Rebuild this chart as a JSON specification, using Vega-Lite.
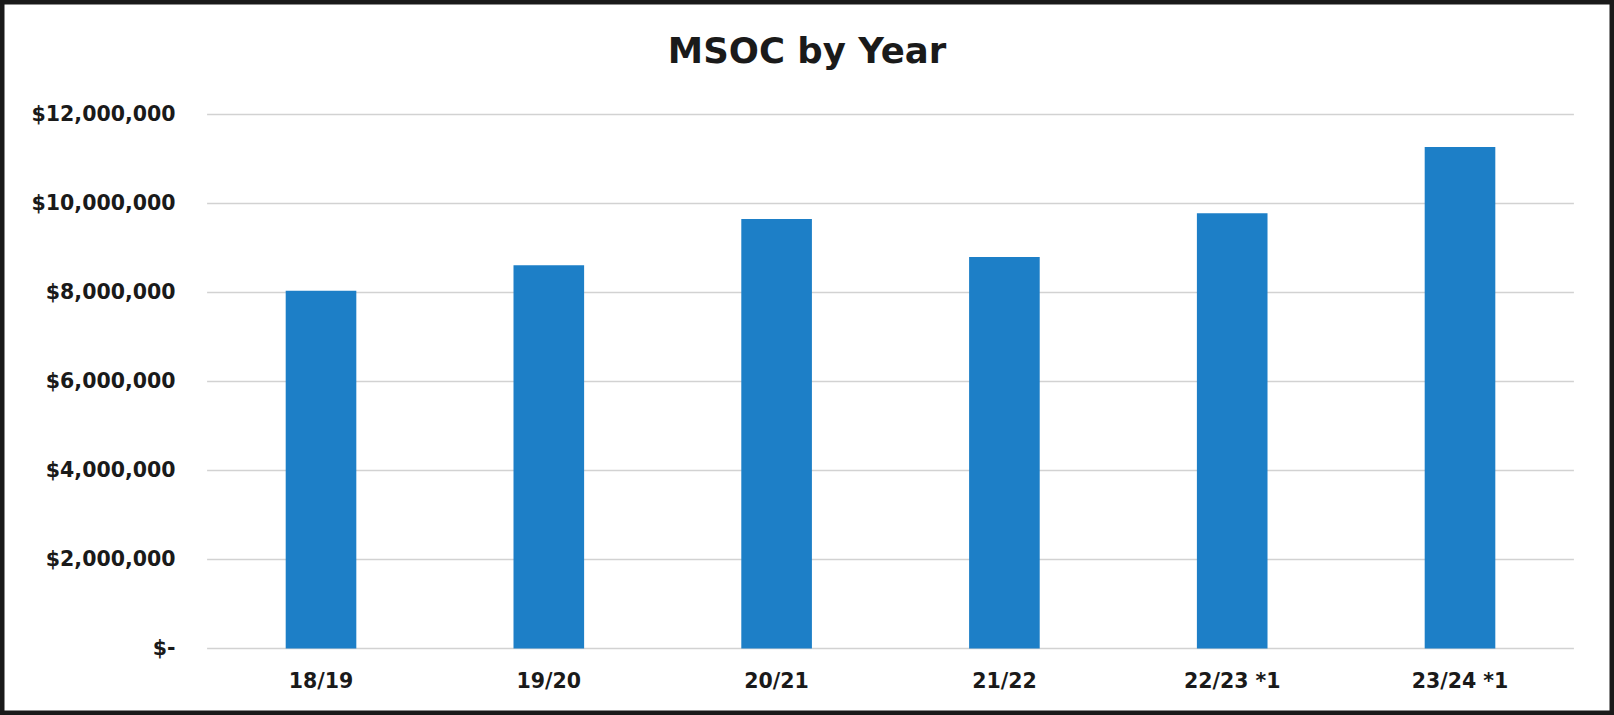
{
  "$schema": "https://vega.github.io/schema/vega-lite/v6.json",
  "width": 1614,
  "height": 715,
  "padding": 0,
  "autosize": "none",
  "background": "white",
  "title": {"text": "MSOC by Year", "font": "DejaVu Sans", "fontSize": 35.5, "fontWeight": "bold", "color": "#1a1a1a", "anchor": "middle", "frame": "group", "offset": -98, "baseline": "alphabetic"},
  "config": {
    "view": {"stroke": "#1a1a1a", "strokeWidth": 9, "fill": "white"},
    "axis": {"labelFont": "DejaVu Sans", "labelFontSize": 20.5, "labelFontWeight": "bold", "labelColor": "#1a1a1a", "domain": false, "ticks": false, "tickSize": 0, "grid": false, "labelPadding": 0}
  },
  "datasets": {
    "bars": [
      {"year": "18/19", "msoc": 8040000},
      {"year": "19/20", "msoc": 8610000},
      {"year": "20/21", "msoc": 9650000},
      {"year": "21/22", "msoc": 8800000},
      {"year": "22/23 *1", "msoc": 9780000},
      {"year": "23/24 *1", "msoc": 11270000}
    ],
    "grid": [
      {"from": "18/19", "to": "23/24 *1", "value": 0},
      {"from": "18/19", "to": "23/24 *1", "value": 2000000},
      {"from": "18/19", "to": "23/24 *1", "value": 4000000},
      {"from": "18/19", "to": "23/24 *1", "value": 6000000},
      {"from": "18/19", "to": "23/24 *1", "value": 8000000},
      {"from": "18/19", "to": "23/24 *1", "value": 10000000},
      {"from": "18/19", "to": "23/24 *1", "value": 12000000}
    ]
  },
  "layer": [
    {
      "data": {"name": "grid"},
      "mark": {"type": "rule", "color": "#d2d2d2", "strokeWidth": 1.5},
      "encoding": {
        "x": {"field": "from", "type": "nominal", "bandPosition": -1.113,
              "scale": {"domain": ["18/19", "19/20", "20/21", "21/22", "22/23 *1", "23/24 *1"], "paddingInner": 0.69, "paddingOuter": 0.8876, "align": 0.7065},
              "axis": {"title": null, "labelAngle": 0, "orient": "bottom", "offset": -28, "labelBaseline": "alphabetic"}},
        "x2": {"field": "to", "bandPosition": 2.113},
        "y": {"field": "value", "type": "quantitative",
              "scale": {"domain": [-1494382, 14573034], "nice": false},
              "axis": {"title": null, "orient": "left", "offset": -175, "values": [0, 2000000, 4000000, 6000000, 8000000, 10000000, 12000000], "labelExpr": "datum.value === 0 ? '$-' : '$' + format(datum.value, ',.0f')", "labelBaseline": "middle", "labelAlign": "right"}}
      }
    },
    {
      "data": {"name": "bars"},
      "mark": {"type": "bar", "color": "#1d7fc7"},
      "encoding": {
        "x": {"field": "year", "type": "nominal",
              "scale": {"domain": ["18/19", "19/20", "20/21", "21/22", "22/23 *1", "23/24 *1"], "paddingInner": 0.69, "paddingOuter": 0.8876, "align": 0.7065},
              "axis": {"title": null, "labelAngle": 0, "orient": "bottom", "offset": -28, "labelBaseline": "alphabetic"}},
        "y": {"field": "msoc", "type": "quantitative",
              "scale": {"domain": [-1494382, 14573034], "nice": false},
              "axis": {"title": null, "orient": "left", "offset": -175, "values": [0, 2000000, 4000000, 6000000, 8000000, 10000000, 12000000], "labelExpr": "datum.value === 0 ? '$-' : '$' + format(datum.value, ',.0f')", "labelBaseline": "middle", "labelAlign": "right"}}
      }
    }
  ]
}
